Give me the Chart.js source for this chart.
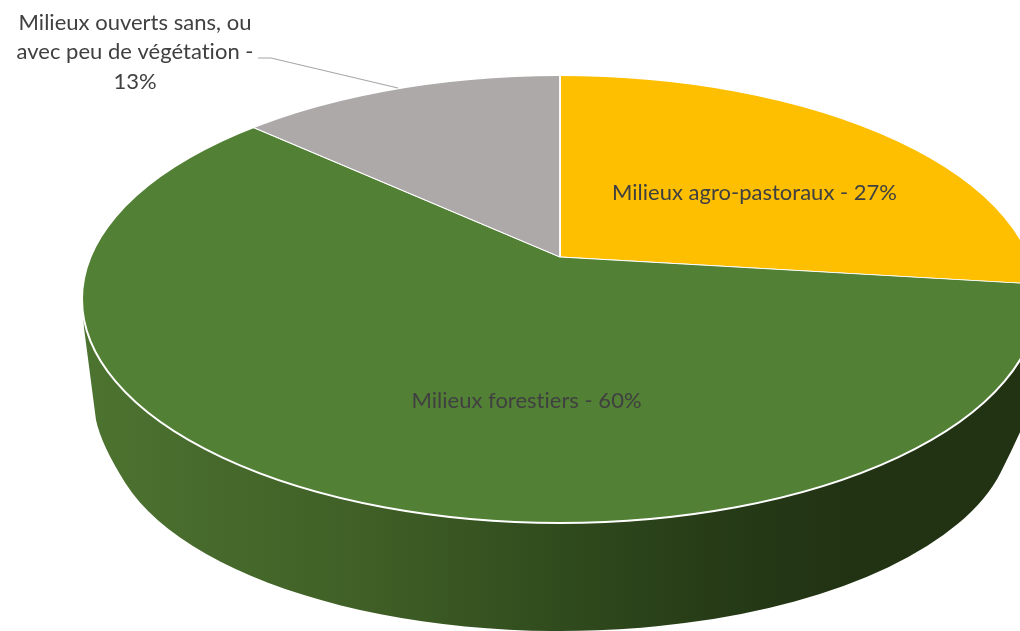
<!DOCTYPE html>
<html lang="fr">
<head>
<meta charset="utf-8">
<title>Milieux</title>
<script src="https://cdn.jsdelivr.net/npm/chart.js@4"></script>
<style>
    html, body { margin: 0; padding: 0; background: #fff; overflow: hidden; }
    canvas { display: block; }
</style>
</head>
<body>
<canvas id="grafico" width="1020" height="631"></canvas>
<script>
const categories = ['Milieux agro-pastoraux', 'Milieux forestiers', 'Milieux ouverts sans, ou avec peu de végétation'];
const valeurs = [27, 60, 13];
const couleurs = ['#FDBF00', '#528035', '#ADA9A9'];

// geometry of the tilted pie, measured on the picture
const apex = { x: 560, y: 257 };
const tilt = 0.45;
const dessus = { x: 560, y: 299, rx: 478, ry: 224 };
const dessous = { x: 560, y: 427, rx: 452, ry: 204 };
const police = '22px Lato';
const couleurTexte = '#404040';

function cheminDessus(ctx) {
    ctx.beginPath();
    ctx.ellipse(dessus.x, dessus.y, dessus.rx, dessus.ry, 0, 0, Math.PI * 2);
}

const pie3d = {
    id: 'pie3d',
    beforeDatasetsDraw(chart) {
        const ctx = chart.ctx;
        const arc = chart.getDatasetMeta(0).data[0];

        // side wall
        const grad = ctx.createLinearGradient(85, 0, 1035, 0);
        grad.addColorStop(0, '#4D7330');
        grad.addColorStop(0.3, '#3F5F26');
        grad.addColorStop(0.5, '#304B1D');
        grad.addColorStop(0.68, '#253A16');
        grad.addColorStop(0.8, '#223314');
        grad.addColorStop(1, '#223314');
        ctx.save();
        ctx.beginPath();
        ctx.moveTo(82, 299);
        ctx.lineTo(84, 328);
        ctx.lineTo(96, 420);
        ctx.quadraticCurveTo(101.3, 445, 125.5, 483.2);
        ctx.ellipse(dessous.x, dessous.y, dessous.rx, dessous.ry, 0, 164 * Math.PI / 180, 13 * Math.PI / 180, true);
        ctx.quadraticCurveTo(1012, 450, 1021, 430);
        ctx.lineTo(1038, 299);
        ctx.closePath();
        ctx.fillStyle = grad;
        ctx.fill();
        ctx.restore();

        // the slices come out of the library, stretched around the apex and cut by the top ellipse
        const k = 600 / arc.outerRadius;
        ctx.save();
        cheminDessus(ctx);
        ctx.clip();
        ctx.translate(apex.x, apex.y);
        ctx.scale(k, k * tilt);
        ctx.translate(-arc.x, -arc.y);
    },
    afterDatasetsDraw(chart) {
        const ctx = chart.ctx;
        ctx.restore();

        // white rim
        cheminDessus(ctx);
        ctx.strokeStyle = '#FFFFFF';
        ctx.lineWidth = 2;
        ctx.stroke();

        // leader line
        ctx.beginPath();
        ctx.moveTo(258, 58);
        ctx.lineTo(271, 58);
        ctx.lineTo(398, 88);
        ctx.strokeStyle = '#A6A6A6';
        ctx.lineWidth = 1.2;
        ctx.stroke();

        // labels
        ctx.font = police;
        ctx.letterSpacing = '0.01px'; // stops the ti ligature of Lato
        ctx.fillStyle = couleurTexte;
        ctx.textAlign = 'center';
        ctx.textBaseline = 'alphabetic';
        ctx.fillText(categories[0] + ' - ' + valeurs[0] + '%', 754.5, 200);
        ctx.fillText(categories[1] + ' - ' + valeurs[1] + '%', 526.5, 408);
        ctx.fillText('Milieux ouverts sans, ou', 135, 30);
        ctx.fillText('avec peu de végétation -', 135, 59);
        ctx.fillText(valeurs[2] + '%', 135, 89);
    }
};

new Chart(document.getElementById('grafico'), {
    type: 'pie',
    data: {
        labels: categories,
        datasets: [{
            data: valeurs,
            backgroundColor: couleurs,
            borderColor: '#FFFFFF',
            borderWidth: 1,
            clip: false
        }]
    },
    options: {
        responsive: false,
        animation: false,
        events: [],
        plugins: { legend: { display: false }, tooltip: { enabled: false } }
    },
    plugins: [pie3d]
});
</script>
</body>
</html>
